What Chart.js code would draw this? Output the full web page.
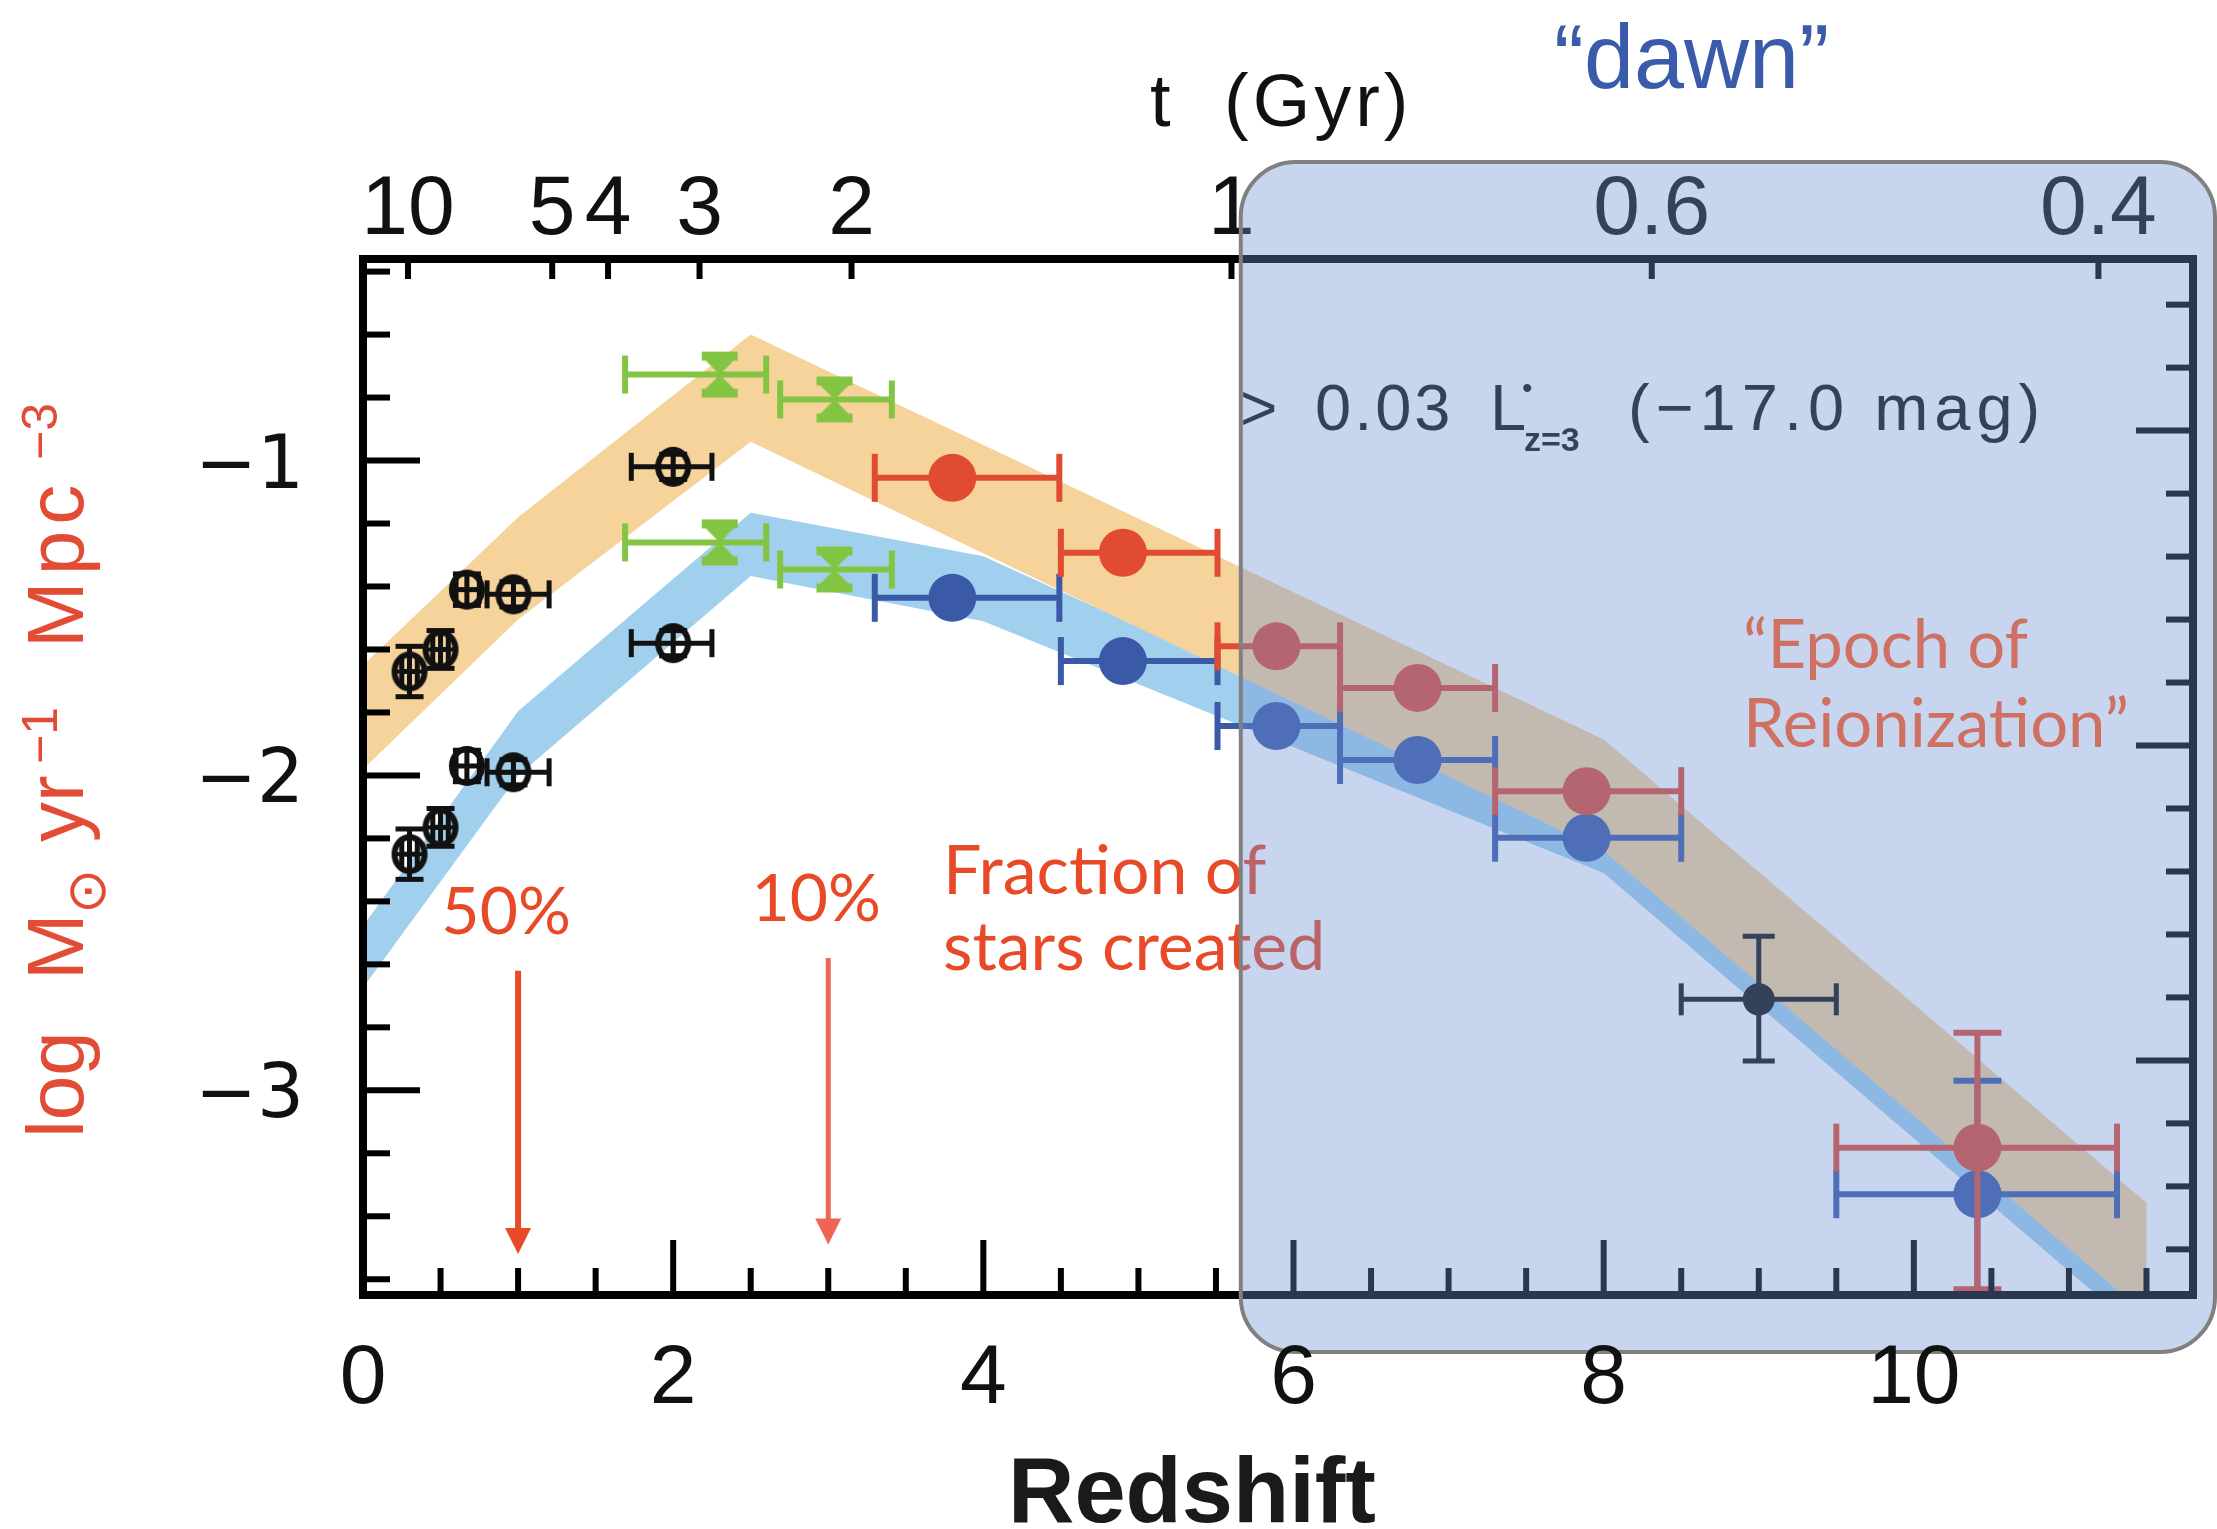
<!DOCTYPE html>
<html>
<head>
<meta charset="utf-8">
<script src="https://cdn.jsdelivr.net/npm/chart.js@4.4.1/dist/chart.umd.min.js"></script>
<style>
  html, body { margin: 0; padding: 0; background: #fff; }
  canvas { display: block; }
</style>
</head>
<body>
<canvas id="sfrd" width="2217" height="1529"></canvas>
<script>
// axis labels
const redshiftLabels = [0, 2, 4, 6, 8, 10];
const logLabels = [-1, -2, -3];
const ageLabels = ["10", "5", "4", "3", "2", "1", "0.6", "0.4"];
const ageZ = [0.29, 1.22, 1.58, 2.17, 3.15, 5.60, 8.31, 11.19];

// low-z black open symbols (dust corrected / observed)
const lowZ = [0.30, 0.50, 0.67, 0.97, 2.00];
const lowZLow = [0.25, 0.45, 0.60, 0.80, 1.73];
const lowZHigh = [0.35, 0.55, 0.75, 1.20, 2.25];
const lowCorr = [-1.67, -1.60, -1.41, -1.425, -1.02];
const lowObs = [-2.25, -2.165, -1.97, -1.99, -1.58];
const lowErr = [0.08, 0.06, 0.05, 0.04, 0.04];

// green hourglass symbols
const uvZ = [2.30, 3.04];
const uvZLow = [1.69, 2.69];
const uvZHigh = [2.60, 3.41];
const uvCorr = [-0.727, -0.806];
const uvObs = [-1.26, -1.346];

// red (dust corrected) and blue (observed) dropout points
const lbgZ = [3.80, 4.90, 5.89, 6.80, 7.89, 10.41];
const lbgZLow = [3.30, 4.50, 5.51, 6.30, 7.30, 9.50];
const lbgZHigh = [4.49, 5.51, 6.30, 7.30, 8.50, 11.31];
const lbgCorr = [-1.055, -1.293, -1.59, -1.722, -2.05, -3.182];
const lbgCorrUp = [0, 0, 0, 0, 0, 0.365];
const lbgCorrDown = [0, 0, 0, 0, 0, 0.45];
const lbgObs = [-1.436, -1.637, -1.843, -1.951, -2.198, -3.33];
const lbgObsUp = [0, 0, 0, 0, 0, 0.36];
const lbgObsDown = [0, 0, 0, 0, 0, 0.40];

// z~9 point
const z9Z = [9.0];
const z9ZLow = [8.5];
const z9ZHigh = [9.5];
const z9Y = [-2.711];
const z9Up = [0.20];
const z9Down = [0.196];

// shaded bands
const dustUpperZ = [0, 1.0, 2.5, 8.0, 11.5, 11.5];
const dustUpperY = [-1.65, -1.18, -0.60, -1.886, -3.357, -3.65];
const dustLowerZ = [0, 1.0, 2.5, 8.0, 11.35];
const dustLowerY = [-1.98, -1.505, -0.94, -2.24, -3.65];
const obsUpperZ = [0, 1.0, 2.5, 4.0, 8.0, 11.35];
const obsUpperY = [-2.478, -1.796, -1.166, -1.304, -2.2, -3.65];
const obsLowerZ = [0, 1.0, 2.5, 4.0, 8.0, 11.18];
const obsLowerY = [-2.674, -2.0, -1.367, -1.51, -2.31, -3.65];

// "fraction of stars created" arrows
const fracLabels = ["50%", "10%"];
const fracZ = [1.0, 3.0];
const fracTop = [-2.62, -2.58];
const fracTip = [-3.52, -3.49];

const dawnZ = 5.66;
const rightTickShift = 0.095;

const RED = "#E14B32", BLUE = "#3A5AA8", GREEN = "#84C443";
const SANS = '"Liberation Sans", Arial, sans-serif';
const LATO = 'Lato, "Liberation Sans", sans-serif';

function pts(xs, ys) {
  return xs.map((v, i) => ({ x: v, y: ys[i] }));
}

function band(uz, uy, lz, ly) {
  const upper = pts(uz, uy);
  const lower = pts(lz, ly).reverse();
  return upper.concat(lower);
}

function openMarker() {
  const c = document.createElement("canvas");
  c.width = 42; c.height = 44;
  const g = c.getContext("2d");
  g.strokeStyle = "#111";
  g.lineWidth = 6;
  g.beginPath(); g.ellipse(21, 22, 15, 17, 0, 0, Math.PI * 2); g.stroke();
  g.lineWidth = 4;
  g.beginPath();
  g.moveTo(7, 22); g.lineTo(35, 22);
  g.moveTo(21, 6); g.lineTo(21, 38);
  g.stroke();
  return c;
}

function hourglass(col) {
  const c = document.createElement("canvas");
  c.width = 42; c.height = 50;
  const g = c.getContext("2d");
  g.fillStyle = col;
  g.fillRect(3, 2, 36, 9);
  g.fillRect(3, 39, 36, 9);
  g.beginPath(); g.moveTo(7, 11); g.lineTo(35, 11); g.lineTo(21, 25); g.closePath(); g.fill();
  g.beginPath(); g.moveTo(7, 39); g.lineTo(35, 39); g.lineTo(21, 25); g.closePath(); g.fill();
  return c;
}

const openImg = openMarker();
const greenImg = hourglass(GREEN);

function seg(ctx, x0, y0, x1, y1) {
  ctx.beginPath(); ctx.moveTo(x0, y0); ctx.lineTo(x1, y1); ctx.stroke();
}

function txt(ctx, s, x, y, font, color, align, spacing) {
  ctx.font = font;
  ctx.fillStyle = color;
  ctx.textAlign = align || "left";
  ctx.textBaseline = "alphabetic";
  ctx.letterSpacing = (spacing || 0) + "px";
  ctx.fillText(s, x, y);
  ctx.letterSpacing = "0px";
}

function drawErrors(chart, ds) {
  const e = ds.err;
  if (!e) return;
  const { ctx, chartArea: a, scales: { x, y } } = chart;
  ctx.save();
  ctx.beginPath();
  ctx.rect(a.left, a.top, a.right - a.left, a.bottom - a.top);
  ctx.clip();
  ctx.strokeStyle = e.color;
  ctx.lineWidth = e.width;
  ds.data.forEach((p, i) => {
    const px = x.getPixelForValue(p.x), py = y.getPixelForValue(p.y);
    const x0 = x.getPixelForValue(e.zLow[i]), x1 = x.getPixelForValue(e.zHigh[i]);
    seg(ctx, x0, py, x1, py);
    seg(ctx, x0, py - e.cap, x0, py + e.cap);
    seg(ctx, x1, py - e.cap, x1, py + e.cap);
    if (e.up && e.up[i] > 0) {
      const y0 = y.getPixelForValue(p.y + e.up[i]);
      const y1 = y.getPixelForValue(p.y - e.down[i]);
      seg(ctx, px, y0, px, y1);
      seg(ctx, px - e.cap, y0, px + e.cap, y0);
      seg(ctx, px - e.cap, y1, px + e.cap, y1);
    }
  });
  ctx.restore();
}

function roundRect(ctx, x0, y0, x1, y1, r) {
  ctx.beginPath();
  ctx.moveTo(x0 + r, y0);
  ctx.arcTo(x1, y0, x1, y1, r);
  ctx.arcTo(x1, y1, x0, y1, r);
  ctx.arcTo(x0, y1, x0, y0, r);
  ctx.arcTo(x0, y0, x1, y0, r);
  ctx.closePath();
}

const figurePlugin = {
  id: "figure",
  beforeDraw(chart) {
    const ctx = chart.ctx;
    ctx.save();
    ctx.fillStyle = "#fff";
    ctx.fillRect(0, 0, chart.width, chart.height);
    ctx.restore();
  },
  beforeDatasetDraw(chart, args) {
    drawErrors(chart, chart.data.datasets[args.index]);
  },
  afterDatasetsDraw(chart) {
    const { ctx, chartArea: a, scales: { x, y } } = chart;
    ctx.save();
    ctx.strokeStyle = "#000";
    ctx.lineWidth = 6;
    // left / right ticks
    for (let k = -18; k <= -2; k++) {
      const v = k / 5;
      const major = k % 5 === 0;
      const len = major ? 57 : 27;
      const py = y.getPixelForValue(v);
      seg(ctx, a.left, py, a.left + len, py);
      const pr = y.getPixelForValue(v + rightTickShift);
      if (pr > a.top + 5 && pr < a.bottom - 5) seg(ctx, a.right - len, pr, a.right, pr);
    }
    // bottom ticks
    for (let k = 1; k <= 23; k++) {
      const v = k / 2;
      const len = (k % 4 === 0) ? 55 : 27;
      const px = x.getPixelForValue(v);
      seg(ctx, px, a.bottom, px, a.bottom - len);
    }
    // top (age) ticks
    ageZ.forEach(z => {
      const px = x.getPixelForValue(z);
      seg(ctx, px, a.top, px, a.top + 20);
    });
    ctx.lineWidth = 8;
    ctx.strokeRect(a.left, a.top, a.right - a.left, a.bottom - a.top);

    // tick labels: top and left
    ageLabels.forEach((s, i) => {
      txt(ctx, s, x.getPixelForValue(ageZ[i]), 234, "84px " + SANS, "#111", "center");
    });
    logLabels.forEach(v => {
      txt(ctx, "\u2212" + Math.abs(v), 304, y.getPixelForValue(v) + 27,
        '74px "DejaVu Sans", sans-serif', "#111", "right");
    });

    // luminosity limit text
    txt(ctx, ">", 1240, 430, "64px " + SANS, "#111");
    txt(ctx, "0.03", 1315, 430, "65px " + SANS, "#111", "left", 3);
    txt(ctx, "L", 1490, 430, "65px " + SANS, "#111");
    txt(ctx, "\u2022", 1522, 398, "30px " + SANS, "#111");
    txt(ctx, "z=3", 1524, 451, "bold 34px " + SANS, "#111");
    txt(ctx, "(\u221217.0 mag)", 1628, 430, "65px " + SANS, "#111", "left", 6);

    // fraction arrows
    fracZ.forEach((z, i) => {
      const px = x.getPixelForValue(z);
      const top = y.getPixelForValue(fracTop[i]);
      const tip = y.getPixelForValue(fracTip[i]);
      const col = i === 0 ? "#E84A28" : "#F06455";
      ctx.strokeStyle = col;
      ctx.fillStyle = col;
      ctx.lineWidth = i === 0 ? 6 : 5;
      seg(ctx, px, top, px, tip - 20);
      ctx.beginPath();
      ctx.moveTo(px - 13, tip - 26);
      ctx.lineTo(px + 13, tip - 26);
      ctx.lineTo(px, tip);
      ctx.closePath();
      ctx.fill();
      txt(ctx, fracLabels[i], px - 12, top - 37, "66px " + LATO, "#E84A28", "center");
    });
    txt(ctx, "Fraction of", 943, 894, "68px " + LATO, "#E84A28");
    txt(ctx, "stars created", 943, 970, "68px " + LATO, "#E84A28");
    ctx.restore();
  },
  afterDraw(chart) {
    const { ctx, chartArea: a, scales: { x, y } } = chart;
    ctx.save();
    // "dawn" shaded box
    const bx = x.getPixelForValue(dawnZ);
    roundRect(ctx, bx, 162, 2215, 1352, 55);
    ctx.fillStyle = "rgba(110,145,210,0.38)";
    ctx.fill();
    ctx.strokeStyle = "#808080";
    ctx.lineWidth = 4;
    ctx.stroke();

    txt(ctx, "\u201CEpoch of", 1743, 668, "67px " + LATO, "#CF7162");
    txt(ctx, "Reionization\u201D", 1743, 747, "67px " + LATO, "#CF7162");

    redshiftLabels.forEach(v => {
      txt(ctx, String(v), x.getPixelForValue(v), 1403, "84px " + SANS, "#111", "center");
    });
    txt(ctx, "Redshift", 1192, 1522, "bold 92px " + SANS, "#1a1a1a", "center");
    txt(ctx, "t", 1150, 126, "74px " + SANS, "#111");
    txt(ctx, "(Gyr)", 1224, 126, "74px " + SANS, "#111", "left", 4);
    txt(ctx, "\u201Cdawn\u201D", 1554, 88, "90px " + SANS, "#3A5AAA");

    // y axis title, rotated
    ctx.translate(83, 1138);
    ctx.rotate(-Math.PI / 2);
    const col = "#E24C34";
    txt(ctx, "log", 0, 0, "80px " + SANS, col);
    txt(ctx, "M", 158, 0, "80px " + SANS, col);
    txt(ctx, "\u2299", 224, 22, '54px "DejaVu Sans", sans-serif', col);
    txt(ctx, "yr", 296, 0, "80px " + SANS, col);
    txt(ctx, "\u22121", 374, -26, "50px " + SANS, col);
    txt(ctx, "Mpc", 490, 0, "80px " + SANS, col, "left", 6);
    txt(ctx, "\u22123", 678, -26, "50px " + SANS, col);
    ctx.restore();
  }
};

const ctx = document.getElementById("sfrd");

new Chart(ctx, {
  type: "scatter",
  data: {
    datasets: [
      {
        label: "dropouts corrected",
        data: pts(lbgZ, lbgCorr),
        order: 1,
        pointStyle: "circle",
        pointRadius: 24,
        backgroundColor: RED,
        borderWidth: 0,
        err: { zLow: lbgZLow, zHigh: lbgZHigh, up: lbgCorrUp, down: lbgCorrDown, color: RED, width: 6, cap: 24 },
      },
      {
        label: "dropouts observed",
        data: pts(lbgZ, lbgObs),
        order: 2,
        pointStyle: "circle",
        pointRadius: 24,
        backgroundColor: BLUE,
        borderWidth: 0,
        err: { zLow: lbgZLow, zHigh: lbgZHigh, up: lbgObsUp, down: lbgObsDown, color: BLUE, width: 6, cap: 24 },
      },
      {
        label: "uv corrected",
        data: pts(uvZ, uvCorr),
        order: 3,
        pointStyle: greenImg,
        err: { zLow: uvZLow, zHigh: uvZHigh, color: GREEN, width: 6, cap: 19 },
      },
      {
        label: "uv observed",
        data: pts(uvZ, uvObs),
        order: 3,
        pointStyle: greenImg,
        err: { zLow: uvZLow, zHigh: uvZHigh, color: GREEN, width: 6, cap: 19 },
      },
      {
        label: "low-z corrected",
        data: pts(lowZ, lowCorr),
        order: 4,
        pointStyle: openImg,
        err: { zLow: lowZLow, zHigh: lowZHigh, up: lowErr, down: lowErr, color: "#111", width: 5, cap: 14 },
      },
      {
        label: "low-z observed",
        data: pts(lowZ, lowObs),
        order: 4,
        pointStyle: openImg,
        err: { zLow: lowZLow, zHigh: lowZHigh, up: lowErr, down: lowErr, color: "#111", width: 5, cap: 14 },
      },
      {
        label: "z~9",
        data: pts(z9Z, z9Y),
        order: 5,
        pointStyle: "circle",
        pointRadius: 16,
        backgroundColor: "#111",
        borderWidth: 0,
        err: { zLow: z9ZLow, zHigh: z9ZHigh, up: z9Up, down: z9Down, color: "#111", width: 5, cap: 16 },
      },
      {
        label: "dust corrected band",
        type: "line",
        data: band(dustUpperZ, dustUpperY, dustLowerZ, dustLowerY),
        order: 10,
        fill: "shape",
        backgroundColor: "#F5D39B",
        borderWidth: 0,
        pointRadius: 0,
        tension: 0,
      },
      {
        label: "observed band",
        type: "line",
        data: band(obsUpperZ, obsUpperY, obsLowerZ, obsLowerY),
        order: 11,
        fill: "shape",
        backgroundColor: "#A0D0EE",
        borderWidth: 0,
        pointRadius: 0,
        tension: 0,
      },
    ],
  },
  options: {
    responsive: false,
    animation: false,
    devicePixelRatio: 1,
    layout: { padding: { left: 363, top: 259, right: 10, bottom: 234 } },
    scales: {
      x: { type: "linear", min: 0, max: 11.8, display: false },
      y: { type: "linear", min: -3.65, max: -0.36, display: false },
    },
    plugins: {
      legend: { display: false },
      tooltip: { enabled: false },
    },
  },
  plugins: [figurePlugin],
});
</script>
</body>
</html>
